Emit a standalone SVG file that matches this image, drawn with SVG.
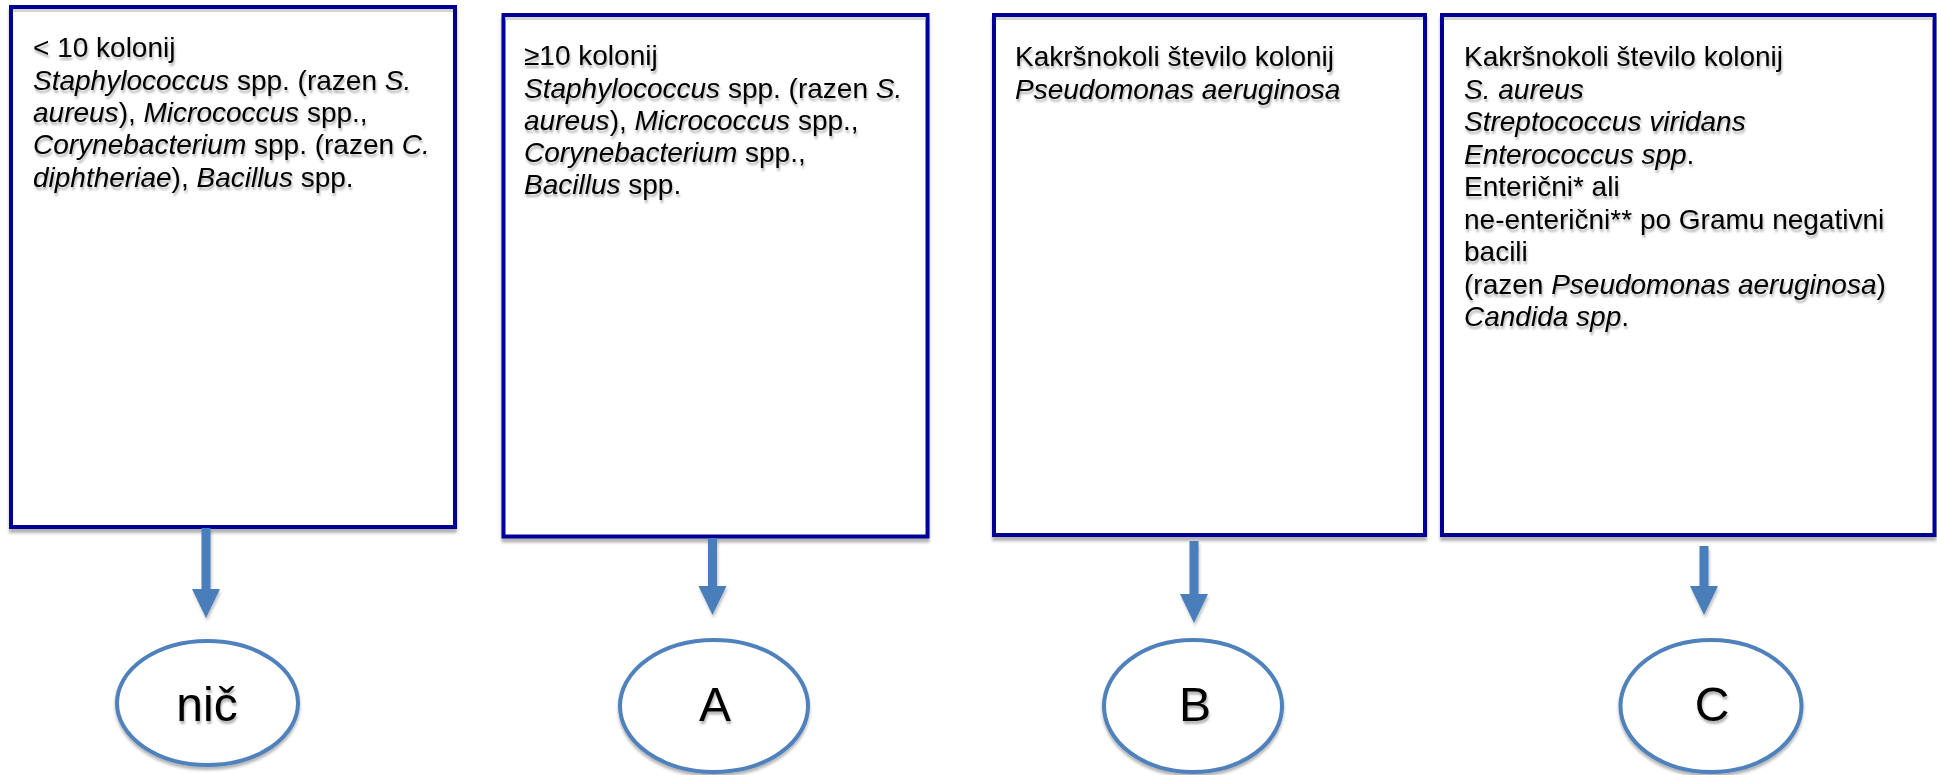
<svg xmlns="http://www.w3.org/2000/svg" width="1937" height="775" viewBox="0 0 1937 775">
  <style>
    .box { fill: #ffffff; stroke: #000096; stroke-width: 4; }
    .inner { stroke: #d4d4d4; stroke-width: 3; }
    .oval { fill: #ffffff; stroke: #4f81bd; stroke-width: 4; }
    .txt { font-family: "Liberation Sans", Arial, sans-serif; font-size: 28px; fill: #000000; }
    .lbl { font-family: "Liberation Sans", Arial, sans-serif; font-size: 48px; fill: #000000; text-anchor: middle; }
    .i { font-style: italic; }
    .conn { fill: none; stroke: #4a7ebb; stroke-width: 9; }
  </style>
  <defs>
    <filter id="boxShadow" x="-5%" y="-5%" width="110%" height="112%">
      <feDropShadow dx="0" dy="4" stdDeviation="1.5" flood-color="#000000" flood-opacity="0.3"/>
    </filter>
    <filter id="txtShadow" x="-5%" y="-20%" width="110%" height="160%">
      <feDropShadow dx="1" dy="3" stdDeviation="1" flood-color="#000000" flood-opacity="0.3"/>
    </filter>
    <filter id="ovalShadow" x="-10%" y="-10%" width="120%" height="125%">
      <feDropShadow dx="0" dy="3" stdDeviation="1.5" flood-color="#000000" flood-opacity="0.3"/>
    </filter>
    <filter id="connShadow" filterUnits="userSpaceOnUse" x="0" y="0" width="1937" height="775">
      <feDropShadow dx="1" dy="3" stdDeviation="1.5" flood-color="#000000" flood-opacity="0.25"/>
    </filter>
    <marker id="head" markerUnits="userSpaceOnUse" markerWidth="32" markerHeight="32" viewBox="0 -16 32 32" refX="0" refY="0" orient="auto" overflow="visible">
      <path d="M0,-14 L29,0 L0,14 Z" fill="#4a7ebb"/>
    </marker>
  </defs>

  <g id="box1">
    <rect class="box" x="11" y="7" width="444" height="520" filter="url(#boxShadow)"/>
    <line class="inner" x1="13" y1="10.5" x2="453" y2="10.5"/>
    <g class="txt" filter="url(#txtShadow)">
      <text x="33" y="57">&lt; 10 kolonij</text>
      <text x="33" y="90"><tspan class="i">Staphylococcus</tspan> spp. (razen <tspan class="i">S.</tspan></text>
      <text x="33" y="122"><tspan class="i">aureus</tspan>), <tspan class="i">Micrococcus</tspan> spp.,</text>
      <text x="33" y="154"><tspan class="i">Corynebacterium</tspan> spp. (razen <tspan class="i">C.</tspan></text>
      <text x="33" y="187"><tspan class="i">diphtheriae</tspan>), <tspan class="i">Bacillus</tspan> spp.</text>
    </g>
  </g>

  <g id="box2">
    <rect class="box" x="503.5" y="15" width="424" height="521.5" filter="url(#boxShadow)"/>
    <line class="inner" x1="505.5" y1="18.5" x2="925.5" y2="18.5"/>
    <g class="txt" filter="url(#txtShadow)">
      <text x="524" y="65">≥10 kolonij</text>
      <text x="524" y="97.5"><tspan class="i">Staphylococcus</tspan> spp. (razen <tspan class="i">S.</tspan></text>
      <text x="524" y="130"><tspan class="i">aureus</tspan>), <tspan class="i">Micrococcus</tspan> spp.,</text>
      <text x="524" y="162"><tspan class="i">Corynebacterium</tspan> spp.,</text>
      <text x="524" y="194"><tspan class="i">Bacillus</tspan> spp.</text>
    </g>
  </g>

  <g id="box3">
    <rect class="box" x="994" y="15" width="431" height="520" filter="url(#boxShadow)"/>
    <line class="inner" x1="996" y1="18.5" x2="1423" y2="18.5"/>
    <g class="txt" filter="url(#txtShadow)">
      <text x="1015" y="66">Kakršnokoli število kolonij</text>
      <text x="1015" y="98.5"><tspan class="i">Pseudomonas aeruginosa</tspan></text>
    </g>
  </g>

  <g id="box4">
    <rect class="box" x="1442" y="15" width="492.5" height="520" filter="url(#boxShadow)"/>
    <line class="inner" x1="1444" y1="18.5" x2="1932.5" y2="18.5"/>
    <g class="txt" filter="url(#txtShadow)">
      <text x="1464" y="66">Kakršnokoli število kolonij</text>
      <text x="1464" y="98.5"><tspan class="i">S. aureus</tspan></text>
      <text x="1464" y="131"><tspan class="i">Streptococcus viridans</tspan></text>
      <text x="1464" y="163.5"><tspan class="i">Enterococcus spp</tspan>.</text>
      <text x="1464" y="196">Enterični* ali</text>
      <text x="1464" y="228.5">ne-enterični** po Gramu negativni</text>
      <text x="1464" y="261">bacili</text>
      <text x="1464" y="293.5">(razen <tspan class="i">Pseudomonas aeruginosa</tspan>)</text>
      <text x="1464" y="326"><tspan class="i">Candida spp</tspan>.</text>
    </g>
  </g>

  <g id="connectors" filter="url(#connShadow)">
    <path class="conn" d="M206,528 L206,589" marker-end="url(#head)"/>
    <path class="conn" d="M712.5,538 L712.5,586" marker-end="url(#head)"/>
    <path class="conn" d="M1194,541 L1194,594" marker-end="url(#head)"/>
    <path class="conn" d="M1704,546 L1704,586" marker-end="url(#head)"/>
  </g>

  <g id="nic">
    <ellipse class="oval" cx="207.5" cy="703" rx="90.5" ry="62" filter="url(#ovalShadow)"/>
    <text class="lbl" x="207" y="721" filter="url(#txtShadow)">nič</text>
  </g>
  <g id="A">
    <ellipse class="oval" cx="714" cy="706" rx="94" ry="66" filter="url(#ovalShadow)"/>
    <text class="lbl" x="715" y="721" filter="url(#txtShadow)">A</text>
  </g>
  <g id="B">
    <ellipse class="oval" cx="1193" cy="706" rx="89" ry="66" filter="url(#ovalShadow)"/>
    <text class="lbl" x="1195" y="721" filter="url(#txtShadow)">B</text>
  </g>
  <g id="C">
    <ellipse class="oval" cx="1711" cy="706" rx="90.5" ry="66" filter="url(#ovalShadow)"/>
    <text class="lbl" x="1712" y="721" filter="url(#txtShadow)">C</text>
  </g>
</svg>
